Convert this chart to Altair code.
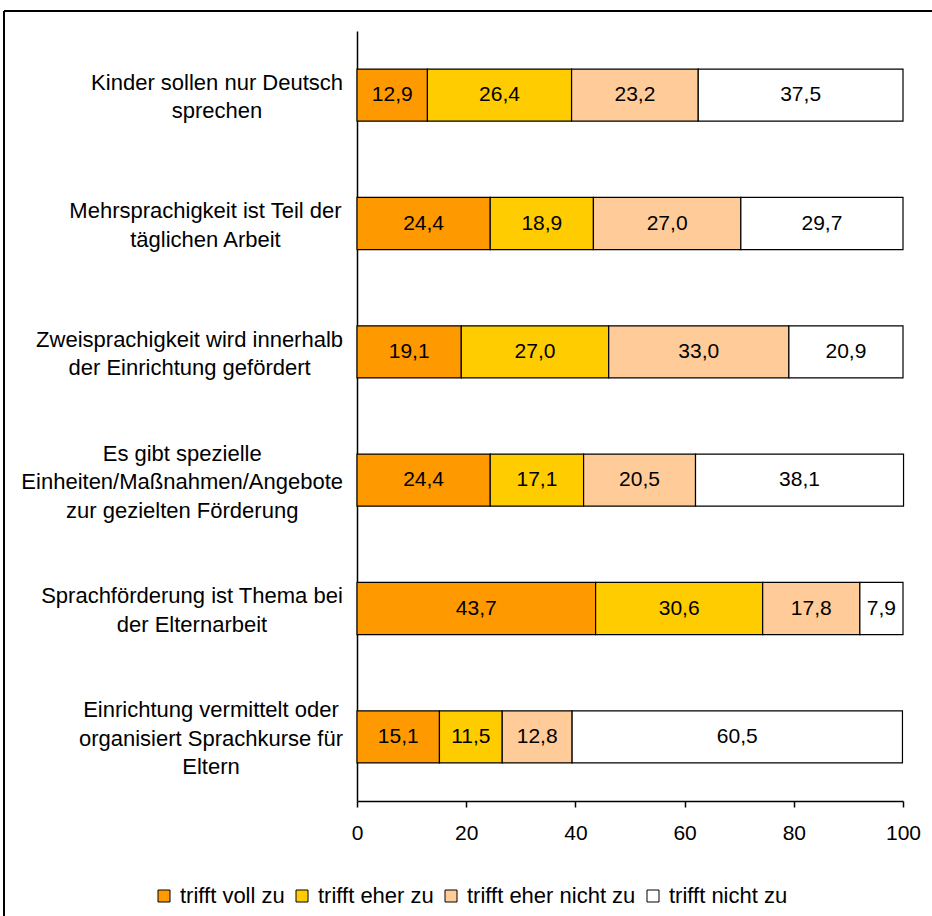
import altair as alt
import pandas as pd

FONT = "Liberation Sans"

# Statements (one list entry per printed line)
statements = [
    ["Kinder sollen nur Deutsch", "sprechen"],
    ["Mehrsprachigkeit ist Teil der", "täglichen Arbeit"],
    ["Zweisprachigkeit wird innerhalb", "der Einrichtung gefördert"],
    ["Es gibt spezielle", "Einheiten/Maßnahmen/Angebote", "zur gezielten Förderung"],
    ["Sprachförderung ist Thema bei", "der Elternarbeit"],
    ["Einrichtung vermittelt oder", "organisiert Sprachkurse für", "Eltern"],
]

answers = ["trifft voll zu", "trifft eher zu", "trifft eher nicht zu", "trifft nicht zu"]

voll_zu = [12.9, 24.4, 19.1, 24.4, 43.7, 15.1]
eher_zu = [26.4, 18.9, 27.0, 17.1, 30.6, 11.5]
eher_nicht_zu = [23.2, 27.0, 33.0, 20.5, 17.8, 12.8]
nicht_zu = [37.5, 29.7, 20.9, 38.1, 7.9, 60.5]

colors = ["#FF9900", "#FFCC00", "#FFCC99", "#FFFFFF"]
x_ticks = [0, 20, 40, 60, 80, 100]

series = [voll_zu, eher_zu, eher_nicht_zu, nicht_zu]
keys = [" ".join(lines) for lines in statements]

rows = []
for i, key in enumerate(keys):
    for j, (ans, vals) in enumerate(zip(answers, series)):
        rows.append({"item": key, "answer": ans, "rank": j, "value": vals[i]})
df = pd.DataFrame(rows)

# Approximate advance widths (per 1000 em) of Liberation Sans, used to centre
# each multi-line category label against a common right edge.
ADV = {
    " ": 278, "a": 556, "b": 556, "c": 500, "d": 556, "e": 556, "f": 278, "g": 556,
    "h": 556, "i": 222, "j": 222, "k": 500, "l": 222, "m": 833, "n": 556, "o": 556,
    "p": 556, "q": 556, "r": 333, "s": 500, "t": 278, "u": 556, "v": 500, "w": 722,
    "x": 500, "y": 500, "z": 500, "ä": 556, "ö": 556, "ü": 556, "ß": 611,
    "A": 667, "B": 667, "C": 722, "D": 722, "E": 667, "F": 611, "G": 778, "H": 722,
    "I": 278, "J": 500, "K": 667, "L": 556, "M": 833, "N": 722, "O": 778, "P": 667,
    "R": 722, "S": 667, "T": 611, "U": 722, "V": 667, "W": 944, "Z": 611, "/": 278,
}
LABEL_SIZE = 22
LINE_HEIGHT = 28.5
LABEL_RIGHT = -14  # right edge of the label block, relative to the y axis


def text_width(s, size):
    return sum(ADV.get(ch, 556) for ch in s) * size / 1000.0


label_df = pd.DataFrame({
    "item": keys,
    "label": ["\n".join(lines) for lines in statements],
    "n": [len(lines) for lines in statements],
    "lx": [LABEL_RIGHT - max(text_width(l, LABEL_SIZE) for l in lines) / 2 for lines in statements],
})

y_enc = alt.Y(
    "item:N",
    sort=keys,
    title=None,
    scale=alt.Scale(paddingInner=0.594, paddingOuter=0.297),
    axis=alt.Axis(labels=False, ticks=False, grid=False, domainColor="black", domainWidth=1.5),
)

base = alt.Chart(df).transform_stack(
    stack="value",
    groupby=["item"],
    as_=["x0", "x1"],
    sort=[alt.SortField("rank", order="ascending")],
)

bars = base.mark_bar(stroke="black", strokeWidth=1.2).encode(
    x=alt.X(
        "x0:Q",
        title=None,
        scale=alt.Scale(domain=[0, 100], nice=False),
        axis=alt.Axis(values=x_ticks, grid=False, tickSize=6, labelPadding=15,
                      labelFlush=False, labelFont=FONT, labelFontSize=21, labelColor="black",
                      domainColor="black", domainWidth=1.5, tickColor="black", tickWidth=1.5),
    ),
    x2="x1:Q",
    y=y_enc,
    color=alt.Color(
        "answer:N",
        scale=alt.Scale(domain=answers, range=colors),
        legend=alt.Legend(
            title=None, orient="none", direction="horizontal",
            legendX=-204, legendY=854, padding=0,
            symbolType="square", symbolSize=144, symbolStrokeColor="black",
            symbolStrokeWidth=1, symbolOpacity=1,
            labelFont=FONT, labelFontSize=22, labelColor="black", labelLimit=0,
            labelOffset=5, columnPadding=6,
        ),
    ),
)

values = base.transform_calculate(
    mid="(datum.x0 + datum.x1) / 2",
    lbl="replace(format(datum.value, '.1f'), '.', ',')",
).mark_text(font=FONT, fontSize=21, color="black").encode(
    x=alt.X("mid:Q", title=None),
    y=y_enc,
    text="lbl:N",
)


def label_layer(n_lines):
    # multi-line blocks are shifted up so they sit centred on their bar
    return alt.Chart(label_df).transform_filter(alt.datum.n == n_lines).mark_text(
        font=FONT, fontSize=LABEL_SIZE, color="black", align="center",
        baseline="middle", lineBreak="\n", lineHeight=LINE_HEIGHT,
        dy=-(n_lines - 1) * LINE_HEIGHT / 2 + 2,
    ).encode(
        x=alt.X("lx:Q", scale=None, axis=None),
        y=y_enc,
        text="label:N",
    )


# Outer frame (top and left edges)
frame_df = pd.DataFrame({"k": [0]})
frame_top = alt.Chart(frame_df).mark_rule(color="black", strokeWidth=2).encode(
    x=alt.value(-353), x2=alt.value(620), y=alt.value(-20)
)
frame_left = alt.Chart(frame_df).mark_rule(color="black", strokeWidth=2).encode(
    x=alt.value(-353), y=alt.value(-20), y2=alt.value(920)
)

chart = alt.layer(
    frame_top, frame_left, bars, values, label_layer(2), label_layer(3)
).properties(
    width=546,
    height=770,
    padding={"left": 357, "top": 31, "right": 29, "bottom": 115},
    autosize=alt.AutoSizeParams(type="none"),
    background="white",
).configure_view(stroke=None)

chart.save("out.html", embed_options={"renderer": "svg", "actions": False})
